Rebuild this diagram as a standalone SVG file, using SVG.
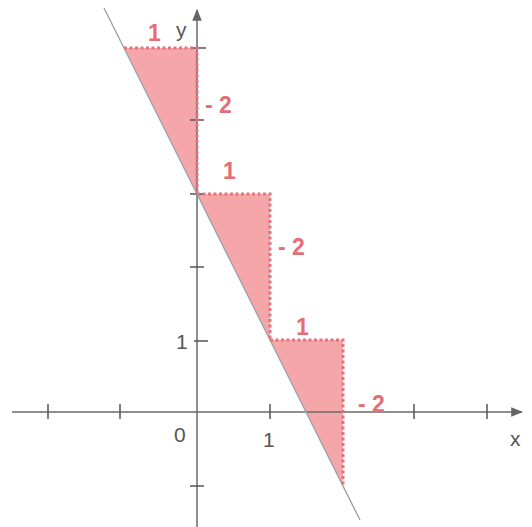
<svg xmlns="http://www.w3.org/2000/svg" width="532" height="527" viewBox="0 0 532 527">
<defs>
<style>
.ax{stroke:#6a6a6a;stroke-width:1.5;fill:none}
.tk{stroke:#555;stroke-width:1.5}
.gl{stroke:#9aa3a8;stroke-width:1.4;fill:none}
.tri{fill:#f4a6a9;stroke:none}
.dot{stroke:#e3737c;stroke-width:3;stroke-dasharray:3 2.5;fill:none}
.lab{font-family:"Liberation Sans",Arial,sans-serif;font-size:23px;font-weight:bold;fill:#e46d76}
.axl{font-family:"Liberation Sans",Arial,sans-serif;font-size:21px;fill:#555}
</style>
<marker id="arr" viewBox="0 0 10 10" refX="9" refY="5" markerWidth="8" markerHeight="8" orient="auto"><path d="M0,1 L10,5 L0,9 Z" fill="#666"/></marker>
</defs>
<rect width="532" height="527" fill="#fff"/>
<g id="triangles">
<polygon class="tri" points="124,48 197,48 197,194"/>
<polygon class="tri" points="197,194 270,194 270,340"/>
<polygon class="tri" points="270,340 343,340 343,486"/>
</g>
<g id="axes">
<line class="ax" x1="12" y1="412" x2="522" y2="412" marker-end="url(#arr)"/>
<line class="ax" x1="197" y1="527" x2="197" y2="10" marker-end="url(#arr)"/>
<g class="tk">
<line x1="48" y1="404" x2="48" y2="419"/>
<line x1="120" y1="404" x2="120" y2="419"/>
<line x1="270" y1="404" x2="270" y2="419"/>
<line x1="414" y1="404" x2="414" y2="419"/>
<line x1="487" y1="404" x2="487" y2="419"/>
<line x1="192" y1="48" x2="206" y2="48"/>
<line x1="190" y1="120" x2="204" y2="120"/>
<line x1="190" y1="194" x2="204" y2="194"/>
<line x1="190" y1="267" x2="204" y2="267"/>
<line x1="194" y1="341" x2="208" y2="341"/>
<line x1="190" y1="486" x2="204" y2="486"/>
</g>
</g>
<g id="graph">
<line class="gl" x1="104" y1="8" x2="360" y2="520"/>
</g>
<g id="steps">
<polyline class="dot" points="124,48 197,48 197,194"/>
<polyline class="dot" points="197,194 270,194 270,340"/>
<polyline class="dot" points="270,340 343,340 343,486"/>
</g>
<g id="labels">
<text class="lab" x="148" y="41">1</text>
<text class="lab" x="205" y="113">- 2</text>
<text class="lab" x="223" y="179">1</text>
<text class="lab" x="278" y="255">- 2</text>
<text class="lab" x="296" y="335">1</text>
<text class="lab" x="358" y="412">- 2</text>
<text class="axl" x="176" y="37">y</text>
<text class="axl" x="174" y="442">0</text>
<text class="axl" x="263" y="447">1</text>
<text class="axl" x="176" y="349">1</text>
<text class="axl" x="510" y="446">x</text>
</g>
</svg>
